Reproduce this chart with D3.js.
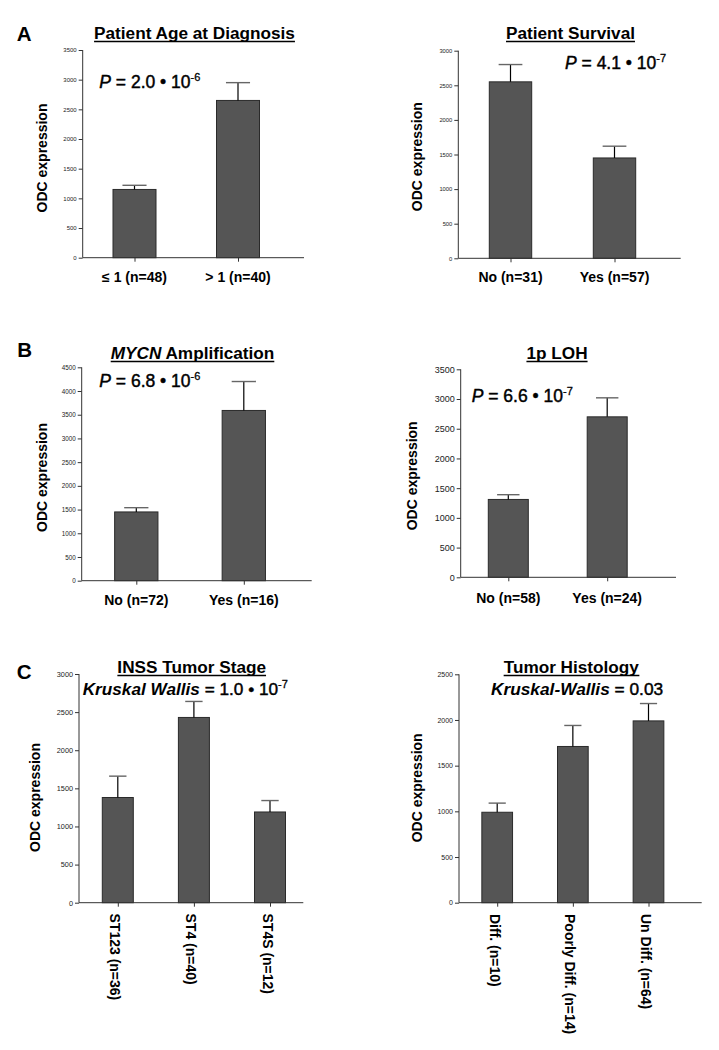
<!DOCTYPE html>
<html>
<head>
<meta charset="utf-8">
<script src="https://cdn.jsdelivr.net/npm/d3@7"></script>
<style>
  html, body { margin: 0; padding: 0; background: #fff; }
  svg { display: block; font-family: "Liberation Sans", Arial, sans-serif; }
</style>
</head>
<body>
<svg id="chart" width="719" height="1050"></svg>
<script>
// ---------- DATA ----------
const ageCategories = ["≤ 1 (n=48)", "> 1 (n=40)"];
const ageMeans = [1150, 2650];
const ageSem = [70, 300];
const ageTicks = [0, 500, 1000, 1500, 2000, 2500, 3000, 3500];

const survivalCategories = ["No (n=31)", "Yes (n=57)"];
const survivalMeans = [2550, 1450];
const survivalSem = [250, 170];
const survivalTicks = [0, 500, 1000, 1500, 2000, 2500, 3000];

const mycnCategories = ["No (n=72)", "Yes (n=16)"];
const mycnMeans = [1450, 3590];
const mycnSem = [90, 610];
const mycnTicks = [0, 500, 1000, 1500, 2000, 2500, 3000, 3500, 4000, 4500];

const lohCategories = ["No (n=58)", "Yes (n=24)"];
const lohMeans = [1310, 2700];
const lohSem = [80, 320];
const lohTicks = [0, 500, 1000, 1500, 2000, 2500, 3000, 3500];

const stageCategories = ["ST123 (n=36)", "ST4 (n=40)", "ST4S (n=12)"];
const stageMeans = [1380, 2430, 1190];
const stageSem = [280, 210, 150];
const stageTicks = [0, 500, 1000, 1500, 2000, 2500, 3000];

const histologyCategories = ["Diff. (n=10)", "Poorly Diff. (n=14)", "Un Diff. (n=64)"];
const histologyMeans = [990, 1710, 1990];
const histologySem = [100, 230, 190];
const histologyTicks = [0, 500, 1000, 1500, 2000, 2500];

// ---------- LAYOUT ----------
const panels = [
  { cats: ageCategories, means: ageMeans, sem: ageSem, ticks: ageTicks,
    ax: 82.7, yTop: 50, yBot: 257.7, xEnd: 304, c0: 134.5, c1: 238, barW: 43, tickFont: 6,
    title: [{t: "Patient Age at Diagnosis"}], tx: 194.5, ty: 39.3,
    stat: {italic: "P", boldItalic: false, rest: " = 2.0 • 10", sup: "-6"}, sx: 99.3, sy: 88.3, sfs: 17.5,
    ylx: 46.5, yly: 158, labY: 282, rotated: false },
  { cats: survivalCategories, means: survivalMeans, sem: survivalSem, ticks: survivalTicks,
    ax: 458.3, yTop: 50.7, yBot: 258.3, xEnd: 680.7, c0: 510.5, c1: 614.5, barW: 42.4, tickFont: 5.8,
    title: [{t: "Patient Survival"}], tx: 570.5, ty: 39.3,
    stat: {italic: "P", boldItalic: false, rest: " = 4.1 • 10", sup: "-7"}, sx: 565, sy: 69, sfs: 17.5,
    ylx: 421.5, yly: 156.7, labY: 282.3, rotated: false },
  { cats: mycnCategories, means: mycnMeans, sem: mycnSem, ticks: mycnTicks,
    ax: 81.7, yTop: 367.3, yBot: 580.7, xEnd: 311.7, c0: 136.3, c1: 243.8, barW: 43.3, tickFont: 6.3,
    title: [{t: "MYCN", italic: true}, {t: " Amplification"}], tx: 192.5, ty: 359.3,
    stat: {italic: "P", boldItalic: false, rest: " = 6.8 • 10", sup: "-6"}, sx: 99.3, sy: 386.7, sfs: 17.5,
    ylx: 46.5, yly: 477.5, labY: 605, rotated: false },
  { cats: lohCategories, means: lohMeans, sem: lohSem, ticks: lohTicks,
    ax: 460.7, yTop: 369.3, yBot: 577.3, xEnd: 676, c0: 508.3, c1: 607.2, barW: 40, tickFont: 9,
    title: [{t: "1p LOH"}], tx: 557, ty: 359.3,
    stat: {italic: "P", boldItalic: false, rest: " = 6.6 • 10", sup: "-7"}, sx: 471.7, sy: 402.3, sfs: 17.5,
    ylx: 416.5, yly: 475.8, labY: 602.7, rotated: false },
  { cats: stageCategories, means: stageMeans, sem: stageSem, ticks: stageTicks,
    ax: 79, yTop: 674, yBot: 902.7, xEnd: 303.3, c0: 117.8, c1: 270, barW: 31, tickFont: 7.3,
    title: [{t: "INSS Tumor Stage"}], tx: 191.7, ty: 673.3,
    stat: {italic: "Kruskal Wallis", boldItalic: true, rest: " = 1.0 • 10", sup: "-7"}, sx: 82.7, sy: 695, sfs: 17.2,
    ylx: 40, yly: 797.5, labY: 913.5, rotated: true },
  { cats: histologyCategories, means: histologyMeans, sem: histologySem, ticks: histologyTicks,
    ax: 459, yTop: 674.3, yBot: 902.7, xEnd: 701.7, c0: 497.2, c1: 648.5, barW: 30.7, tickFont: 7,
    title: [{t: "Tumor Histology"}], tx: 571.3, ty: 673.3,
    stat: {italic: "Kruskal-Wallis", boldItalic: true, rest: " = 0.03", sup: ""}, sx: 491, sy: 695, sfs: 17.3,
    ylx: 421.5, yly: 787.8, labY: 914, rotated: true }
];

const panelLetters = [
  { t: "A", x: 16.7, y: 40.7 },
  { t: "B", x: 17.3, y: 356.7 },
  { t: "C", x: 16.7, y: 679.3 }
];

const svg = d3.select("#chart");

panelLetters.forEach(l => {
  svg.append("text").attr("x", l.x).attr("y", l.y)
    .attr("font-size", 20.5).attr("font-weight", "bold").attr("fill", "#000").text(l.t);
});

panels.forEach(p => {
  const g = svg.append("g");
  const yMax = p.ticks[p.ticks.length - 1];
  const y = d3.scaleLinear().domain([0, yMax]).range([p.yBot, p.yTop]);
  const x = d3.scalePoint().domain(p.cats).range([p.c0, p.c1]);

  // bars
  g.selectAll("rect.bar").data(p.cats).enter().append("rect")
    .attr("class", "bar")
    .attr("x", d => x(d) - p.barW / 2)
    .attr("width", p.barW)
    .attr("y", (d, i) => y(p.means[i]))
    .attr("height", (d, i) => p.yBot - y(p.means[i]))
    .attr("fill", "#555555")
    .attr("stroke", "#2a2a2a")
    .attr("stroke-width", 1);

  // error bars
  g.selectAll("line.err").data(p.cats).enter().append("line")
    .attr("x1", d => x(d)).attr("x2", d => x(d))
    .attr("y1", (d, i) => y(p.means[i]))
    .attr("y2", (d, i) => y(p.means[i] + p.sem[i]))
    .attr("stroke", "#000").attr("stroke-width", 1.2);
  g.selectAll("line.cap").data(p.cats).enter().append("line")
    .attr("x1", d => x(d) - p.barW * 0.28).attr("x2", d => x(d) + p.barW * 0.28)
    .attr("y1", (d, i) => y(p.means[i] + p.sem[i]))
    .attr("y2", (d, i) => y(p.means[i] + p.sem[i]))
    .attr("stroke", "#666").attr("stroke-width", 1.4);

  // y axis
  const yAxis = d3.axisLeft(y).tickValues(p.ticks).tickSize(4).tickPadding(2).tickFormat(d3.format("d"));
  const ya = g.append("g").attr("transform", `translate(${p.ax},0)`).call(yAxis);
  ya.select(".domain").attr("stroke", "#333").attr("d", `M-0,${p.yTop}V${p.yBot}`);
  ya.selectAll(".tick line").attr("stroke", "#333");
  ya.selectAll(".tick text").attr("font-size", p.tickFont).attr("fill", "#222")
    .attr("font-family", "Liberation Sans, Arial, sans-serif");

  // x axis
  const xAxis = d3.axisBottom(x).tickSize(4).tickFormat("");
  const xa = g.append("g").attr("transform", `translate(0,${p.yBot})`).call(xAxis);
  xa.select(".domain").attr("stroke", "#333").attr("d", `M${p.ax},0H${p.xEnd}`);
  xa.selectAll(".tick line").attr("stroke", "#333");

  // category labels
  if (!p.rotated) {
    g.selectAll("text.cat").data(p.cats).enter().append("text")
      .attr("x", d => x(d)).attr("y", p.labY)
      .attr("text-anchor", "middle").attr("font-size", 14).attr("font-weight", "bold")
      .attr("fill", "#000").text(d => d);
  } else {
    g.selectAll("text.cat").data(p.cats).enter().append("text")
      .attr("transform", d => `translate(${x(d) - 2.5},${p.labY}) rotate(90)`)
      .attr("dy", "0.35em")
      .attr("text-anchor", "start").attr("font-size", 14).attr("font-weight", "bold")
      .attr("fill", "#000").text(d => d);
  }

  // y label
  g.append("text")
    .attr("transform", `translate(${p.ylx},${p.yly}) rotate(-90)`)
    .attr("text-anchor", "middle").attr("font-size", 14).attr("font-weight", "bold")
    .attr("fill", "#000").text("ODC expression");

  // title with underline
  const tt = g.append("text").attr("x", p.tx).attr("y", p.ty)
    .attr("text-anchor", "middle").attr("font-size", 17.2).attr("font-weight", "bold").attr("fill", "#000");
  p.title.forEach(s => {
    const ts = tt.append("tspan").text(s.t);
    if (s.italic) ts.attr("font-style", "italic");
  });
  const bb = tt.node().getBBox();
  g.append("line").attr("x1", bb.x).attr("x2", bb.x + bb.width)
    .attr("y1", p.ty + 2.2).attr("y2", p.ty + 2.2)
    .attr("stroke", "#000").attr("stroke-width", 1.5);

  // statistic annotation (medium weight emulated with a thin stroke)
  const st = g.append("text").attr("x", p.sx).attr("y", p.sy)
    .attr("font-size", p.sfs).attr("fill", "#000");
  const it = st.append("tspan").attr("font-style", "italic")
    .attr("font-weight", p.stat.boldItalic ? "bold" : "normal").text(p.stat.italic);
  if (!p.stat.boldItalic) it.attr("stroke", "#000").attr("stroke-width", 0.45);
  st.append("tspan").attr("stroke", "#000").attr("stroke-width", 0.45).text(p.stat.rest);
  if (p.stat.sup) {
    st.append("tspan").attr("font-size", 11).attr("dy", -7)
      .attr("stroke", "#000").attr("stroke-width", 0.3).text(p.stat.sup);
  }
});
</script>
</body>
</html>
